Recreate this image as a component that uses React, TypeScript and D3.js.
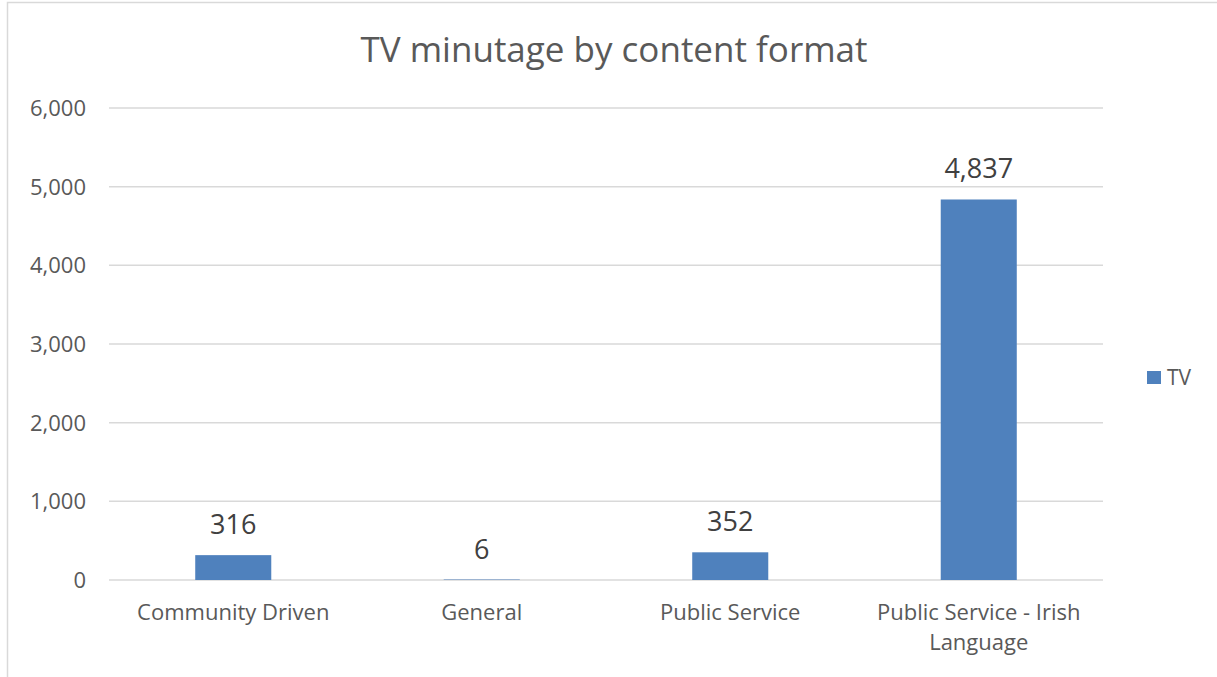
import React from "react";
import * as d3 from "d3";

const categories = ["Community Driven", "General", "Public Service", "Public Service - Irish Language"];
const categoryLines = [["Community Driven"], ["General"], ["Public Service"], ["Public Service - Irish", "Language"]];
const tvValues = [316, 6, 352, 4837];
const yTicks = [0, 1000, 2000, 3000, 4000, 5000, 6000];
const seriesName = "TV";
const title = "TV minutage by content format";

const W = 1217;
const H = 677;
const FONT = "'Open Sans', 'Noto Sans', sans-serif";
const TEXT = "#595959";
const BAR = "#4f81bd";
const GRID = "#d9d9d9";

export default function App() {
  const left = 109;
  const right = 1103;
  const top = 108;
  const bottom = 580;
  const x = d3.scaleBand<string>().domain(categories).range([left, right]).paddingInner(0.694).paddingOuter(0.347);
  const y = d3.scaleLinear().domain([0, 6000]).range([bottom, top]);
  const fmt = d3.format(",");
  const bw = x.bandwidth();

  return (
    <div style={{ position: "fixed", left: 0, top: 0 }}>
      <svg width={W} height={H} style={{ display: "block", background: "#fff" }}>
        <rect x={7.5} y={2.5} width={W + 10} height={H + 10} fill="#fff" stroke={GRID} strokeWidth={1.5} />
        <text x={614} y={62} textAnchor="middle" fontFamily={FONT} fontSize={35} fill={TEXT}>
          {title}
        </text>
        {yTicks.map((t) => (
          <g key={t}>
            <line x1={left} x2={right} y1={y(t)} y2={y(t)} stroke={GRID} strokeWidth={1.5} />
            <text x={86} y={y(t)} dy="0.36em" textAnchor="end" fontFamily={FONT} fontSize={22} fill={TEXT}>
              {fmt(t)}
            </text>
          </g>
        ))}
        {categories.map((c, i) => {
          const v = tvValues[i];
          const cx = (x(c) as number) + bw / 2;
          return (
            <g key={c}>
              <rect x={x(c)} y={y(v)} width={bw} height={y(0) - y(v)} fill={BAR} />
              <text x={cx} y={y(v) - 21} textAnchor="middle" fontFamily={FONT} fontSize={27} fill="#404040">
                {fmt(v)}
              </text>
              {categoryLines[i].map((ln, j) => (
                <text key={j} x={cx} y={620 + j * 30} textAnchor="middle" fontFamily={FONT} fontSize={22} fill={TEXT}>
                  {ln}
                </text>
              ))}
            </g>
          );
        })}
        <rect x={1147} y={371} width={14} height={13} fill={BAR} />
        <text x={1167} y={385} fontFamily={FONT} fontSize={21} fill={TEXT}>
          {seriesName}
        </text>
      </svg>
    </div>
  );
}
